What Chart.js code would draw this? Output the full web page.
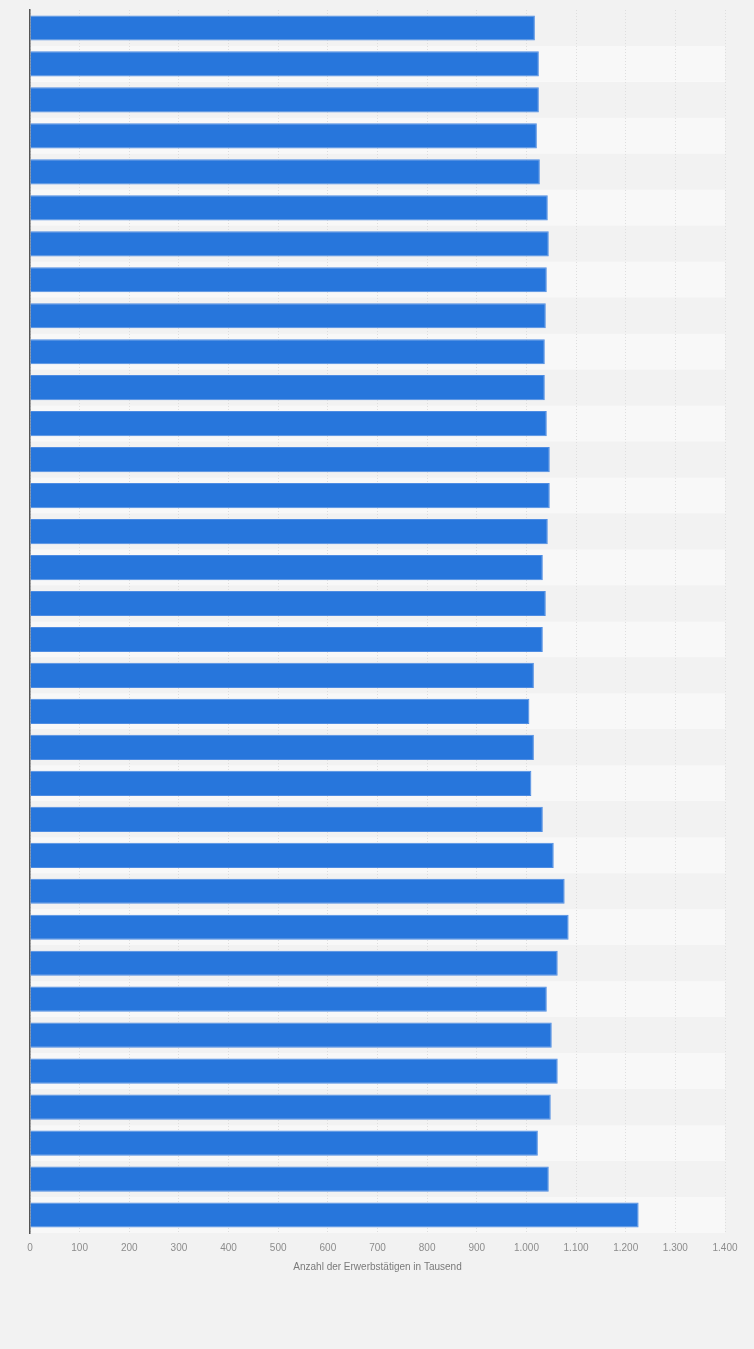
<!DOCTYPE html>
<html>
<head>
<meta charset="utf-8">
<script src="https://cdn.jsdelivr.net/npm/chart.js@4/dist/chart.umd.min.js"></script>
<style>
  html, body { margin: 0; padding: 0; background: #f2f2f2; }
  #wrap { width: 754px; height: 1349px; position: relative; }
</style>
</head>
<body>
<div id="wrap"><canvas id="myChart"></canvas></div>
<script>
// one row per bar, labels are not shown in the picture
var categories = ["1","2","3","4","5","6","7","8","9","10","11","12","13","14","15","16","17",
  "18","19","20","21","22","23","24","25","26","27","28","29","30","31","32","33","34"]
var values = [1017, 1025, 1025, 1021, 1027, 1043, 1045, 1041, 1039, 1037, 1037, 1041,
  1047, 1047, 1043, 1033, 1039, 1033, 1015, 1006, 1015, 1010, 1033, 1055,
  1077, 1085, 1063, 1041, 1051, 1063, 1049, 1023, 1045, 1226]
var xTicks = [0, 100, 200, 300, 400, 500, 600, 700, 800, 900, 1000, 1100, 1200, 1300, 1400]
var axisTitle = 'Anzahl der Erwerbstätigen in Tausend'

function formatDe(v){
    return String(v).replace(/\B(?=(\d{3})+(?!\d))/g, '.')
}

// alternating row stripes behind the bars
var stripes = {
    id: 'stripes',
    beforeDraw(chart){
        var ctx = chart.ctx
        var area = chart.chartArea
        var y = chart.scales.y
        var n = categories.length
        var step = (y.bottom - y.top) / n
        ctx.save()
        for(let i = 0; i < n; i++){
            var c = y.getPixelForValue(i)
            ctx.fillStyle = (i % 2 == 0) ? '#f2f2f2' : '#f8f8f8'
            ctx.fillRect(area.left, c - step / 2, area.right - area.left, step)
        }
        ctx.restore()
    }
}

Chart.defaults.font.family = '"Liberation Sans", Arial, sans-serif'

var ctx = document.getElementById('myChart').getContext('2d')
var myChart = new Chart(ctx, {
    type: 'bar',
    data: {
        labels: categories,
        datasets: [{
            data: values,
            backgroundColor: '#2776dc',
            borderColor: '#4f8de3',
            borderWidth: 1,
            barPercentage: 0.7,
            categoryPercentage: 1
        }]
    },
    options: {
        indexAxis: 'y',
        responsive: true,
        maintainAspectRatio: false,
        animation: false,
        layout: { padding: { left: 22, right: 29, top: 10, bottom: 76 } },
        plugins: { legend: { display: false }, tooltip: { enabled: false } },
        scales: {
            x: {
                min: 0,
                max: 1400,
                afterBuildTicks(axis){
                    axis.ticks = xTicks.map(v => ({ value: v }))
                },
                grid: { color: '#dedede', lineWidth: 1, drawTicks: false },
                border: { display: false, dash: [1, 2] },
                ticks: {
                    padding: 9,
                    color: '#8c8c8c',
                    font: { size: 10 },
                    maxRotation: 0,
                    callback: v => formatDe(v)
                },
                title: {
                    display: true,
                    text: axisTitle,
                    color: '#7a7a7a',
                    font: { size: 10 },
                    padding: { top: -2, bottom: 0 }
                }
            },
            y: {
                grid: { display: false },
                border: { display: true, color: '#555555', width: 1.5 },
                ticks: { display: false }
            }
        }
    },
    plugins: [stripes]
})
</script>
</body>
</html>
